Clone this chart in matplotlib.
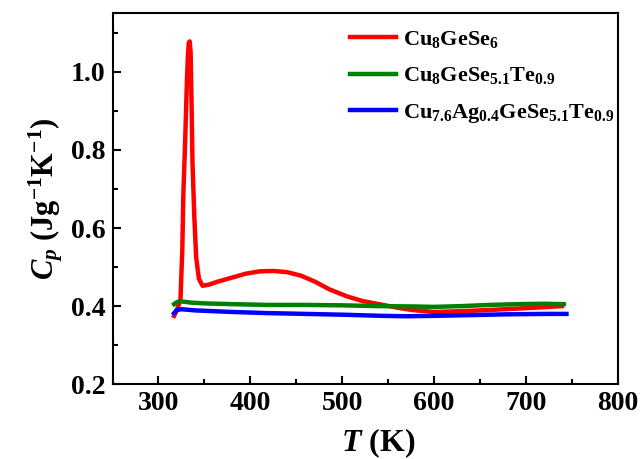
import numpy as np
import matplotlib
matplotlib.use("Agg")
import matplotlib.pyplot as plt
from matplotlib.ticker import MultipleLocator

## Fonts: bold Times-like look
plt.rcParams['font.family'] = 'Liberation Serif'
plt.rcParams['font.weight'] = 'bold'
plt.rcParams['axes.labelweight'] = 'bold'
plt.rcParams['mathtext.fontset'] = 'custom'
plt.rcParams['mathtext.rm'] = 'Liberation Serif:bold'
plt.rcParams['mathtext.bf'] = 'Liberation Serif:bold'
plt.rcParams['mathtext.it'] = 'Liberation Serif:bold:italic'

## Data
T_red = [317, 320, 323, 324, 326, 327, 329, 330, 331, 332, 333, 334, 335, 336, 337, 339, 341, 344, 348,
         355, 365, 380, 395, 410, 425, 440, 455, 470, 486, 505, 522, 540, 560, 576, 600, 630, 660, 685, 710, 739]
cp_red = [0.375, 0.39, 0.41, 0.42, 0.55, 0.68, 0.82, 0.90, 0.98, 1.04, 1.075, 1.078, 1.05, 0.92, 0.77, 0.63, 0.525, 0.47, 0.452,
          0.455, 0.463, 0.473, 0.483, 0.489, 0.490, 0.487, 0.478, 0.463, 0.443, 0.425, 0.413, 0.405, 0.396, 0.390, 0.385, 0.387, 0.390, 0.393, 0.396, 0.400]

T_green = [317, 320, 325, 335, 350, 380, 420, 460, 500, 540, 580, 600, 630, 660, 690, 720, 741]
cp_green = [0.405, 0.410, 0.412, 0.409, 0.407, 0.405, 0.403, 0.403, 0.402, 0.400, 0.399, 0.398, 0.400, 0.403, 0.405, 0.406, 0.405]

T_blue = [317, 320, 325, 340, 380, 420, 460, 500, 544, 570, 598, 640, 680, 720, 744]
cp_blue = [0.382, 0.390, 0.392, 0.389, 0.385, 0.382, 0.380, 0.378, 0.375, 0.374, 0.375, 0.377, 0.379, 0.380, 0.380]

labels = [r'Cu$_8$GeSe$_6$',
          r'Cu$_8$GeSe$_{5.1}$Te$_{0.9}$',
          r'Cu$_{7.6}$Ag$_{0.4}$GeSe$_{5.1}$Te$_{0.9}$']

fig = plt.figure(figsize=(6.43, 4.59), dpi=100)
ax = fig.add_axes([0.175, 0.163, 0.786, 0.808])

ax.plot(T_red, cp_red, color='red', lw=3.2, label=labels[0])
ax.plot(T_green, cp_green, color='green', lw=3.2, label=labels[1])
ax.plot(T_blue, cp_blue, color='blue', lw=3.2, label=labels[2])

ax.set_xlim(250, 800)
ax.set_ylim(0.2, 1.15)
ax.xaxis.set_major_locator(MultipleLocator(100))
ax.xaxis.set_minor_locator(MultipleLocator(50))
ax.yaxis.set_major_locator(MultipleLocator(0.2))
ax.yaxis.set_minor_locator(MultipleLocator(0.1))
ax.tick_params(which='both', direction='in', labelsize=20, width=1.5, pad=5)
ax.tick_params(which='major', length=6)
ax.tick_params(which='minor', length=3.5)
for s in ax.spines.values():
    s.set_linewidth(1.5)

ax.set_xlabel(r'$\mathit{T}$ (K)', fontsize=23)
ax.xaxis.set_label_coords(0.525, -0.115)
ax.set_ylabel(r'$\mathit{C_p}$ (Jg$^{-1}$K$^{-1}$)', fontsize=22)
ax.yaxis.set_label_coords(-0.094, 0.5)

ax.legend(loc='upper right', bbox_to_anchor=(1.006, 0.976), frameon=False, fontsize=16,
          handlelength=2.1, labelspacing=0.7, borderaxespad=0.0, borderpad=0.3,
          handletextpad=0.3)

fig.savefig('out.png', dpi=100)
